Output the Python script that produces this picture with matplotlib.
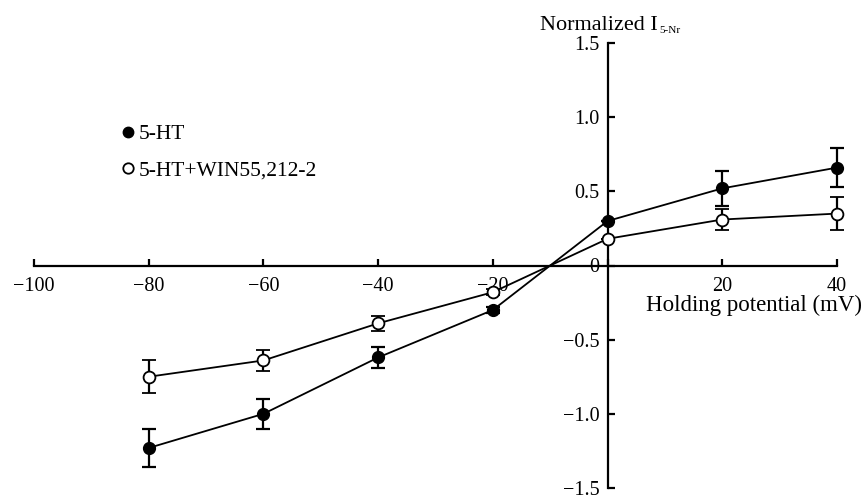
import matplotlib.pyplot as plt
from matplotlib.lines import Line2D

plt.rcParams['font.family'] = ['Liberation Serif', 'DejaVu Serif']

# holding potential (mV)
potential = [-80, -60, -40, -20, 0, 20, 40]

# 5-HT alone
ht_mean = [-1.23, -1.00, -0.62, -0.30, 0.30, 0.52, 0.66]
ht_err = [0.13, 0.10, 0.07, 0.02, 0.0, 0.12, 0.13]

# 5-HT + WIN55,212-2
win_mean = [-0.75, -0.64, -0.39, -0.18, 0.18, 0.31, 0.35]
win_err = [0.11, 0.07, 0.05, 0.02, 0.0, 0.07, 0.11]

xticks = [-100, -80, -60, -40, -20, 0, 20, 40]
xticklabels = ['\u2212100', '\u221280', '\u221260', '\u221240', '\u221220', '', '20', '40']
yticks = [-1.5, -1.0, -0.5, 0, 0.5, 1.0, 1.5]
yticklabels = ['\u22121.5', '\u22121.0', '\u22120.5', '0', '0.5', '1.0', '1.5']

fig = plt.figure(figsize=(8.63, 5), dpi=100)
ax = fig.add_axes([0.0394, 0.024, 0.9305, 0.89])

ax.errorbar(potential, win_mean, yerr=win_err, color='black', lw=1.3,
            marker='o', ms=8.5, mfc='white', mec='black', mew=1.3,
            elinewidth=1.6, capsize=5, capthick=1.6, clip_on=False, zorder=3)
ax.errorbar(potential, ht_mean, yerr=ht_err, color='black', lw=1.3,
            marker='o', ms=8.5, mfc='black', mec='black',
            elinewidth=1.6, capsize=5, capthick=1.6, clip_on=False, zorder=4)

ax.set_xlim(-100, 40)
ax.set_ylim(-1.5, 1.5)

ax.spines['left'].set_position(('data', 0))
ax.spines['bottom'].set_position(('data', 0))
ax.spines['top'].set_visible(False)
ax.spines['right'].set_visible(False)
ax.spines['left'].set_linewidth(1.6)
ax.spines['bottom'].set_linewidth(1.6)

ax.set_xticks(xticks)
ax.set_xticklabels(xticklabels)
ax.set_yticks(yticks)
ax.set_yticklabels(yticklabels)
ax.tick_params(axis='both', direction='in', length=5, width=1.6, labelsize=14.5)
ax.tick_params(axis='x', pad=8)
ax.tick_params(axis='y', pad=6)

fig.text(0.999, 0.39, 'Holding potential (mV)', ha='right', va='center', fontsize=16.5)
t1 = fig.text(0.626, 0.94, 'Normalized I', ha='left', va='baseline', fontsize=16)
ax.annotate('5-Nr', xy=(1, 0), xycoords=t1, xytext=(1, 1.5), textcoords='offset points',
            ha='left', va='baseline', fontsize=8)

handles = [Line2D([], [], ls='none', marker='o', ms=7.5, mfc='black', mec='black'),
           Line2D([], [], ls='none', marker='o', ms=7.5, mfc='white', mec='black', mew=1.3)]
ax.legend(handles, ['5-HT', '5-HT+WIN55,212-2'], loc='upper left',
          bbox_to_anchor=(0.141, 0.752), bbox_transform=fig.transFigure,
          frameon=False, fontsize=15.5, handlelength=0.6, handletextpad=0.2,
          labelspacing=0.75, borderpad=0, borderaxespad=0)

fig.savefig('out.png', dpi=100)
